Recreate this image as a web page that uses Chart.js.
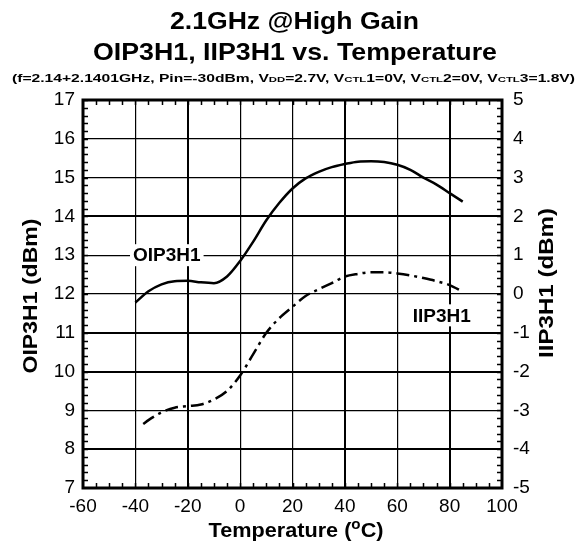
<!DOCTYPE html>
<html>
<head>
<meta charset="utf-8">
<script src="https://cdn.jsdelivr.net/npm/chart.js@4.4.1/dist/chart.umd.min.js"></script>
<style>
  html, body { margin: 0; padding: 0; background: #fff; }
  #wrap { width: 581px; height: 548px; }
</style>
</head>
<body>
<div id="wrap"><canvas id="myChart"></canvas></div>
<script>
// data
const oipTemps = [-40, -35, -30, -25, -20, -15, -10, -5, 0, 5, 10, 15, 20, 25, 30, 35, 40, 45, 50, 55, 60, 65, 70, 75, 80, 85]
const oipValues = [11.78, 12.07, 12.25, 12.33, 12.34, 12.3, 12.28, 12.45, 12.85, 13.35, 13.9, 14.35, 14.72, 14.98, 15.15, 15.27, 15.35, 15.41, 15.42, 15.4, 15.33, 15.2, 15.0, 14.82, 14.6, 14.38]
const iipTemps = [-37, -35, -30, -25, -20, -15, -10, -5, 0, 5, 10, 15, 20, 25, 30, 35, 40, 45, 50, 55, 60, 65, 70, 75, 80, 85]
const iipValues = [-3.35, -3.25, -3.05, -2.93, -2.89, -2.85, -2.72, -2.5, -2.1, -1.55, -1.0, -0.62, -0.33, -0.05, 0.12, 0.28, 0.45, 0.52, 0.56, 0.56, 0.53, 0.48, 0.41, 0.33, 0.23, 0.06]

const xTicks = [-60, -40, -20, 0, 20, 40, 60, 80, 100]
const leftTicks = [7, 8, 9, 10, 11, 12, 13, 14, 15, 16, 17]
const rightTicks = [-5, -4, -3, -2, -1, 0, 1, 2, 3, 4, 5]

const FONT = "'Liberation Sans', Arial, sans-serif"

// text made of pieces, some smaller (sub/superscripts), stretched to a width
function drawPieces(ctx, pieces, cx, baseline, size, targetWidth) {
    let total = 0
    pieces.forEach(p => {
        ctx.font = 'bold ' + Math.round(size * (p.scale || 1)) + 'px ' + FONT
        p.w = ctx.measureText(p.t).width
        total += p.w
    })
    const sx = targetWidth ? targetWidth / total : 1
    ctx.save()
    ctx.translate(cx - total * sx / 2, baseline)
    ctx.scale(sx, 1)
    ctx.textAlign = 'left'
    ctx.textBaseline = 'alphabetic'
    ctx.fillStyle = '#000'
    let x = 0
    pieces.forEach(p => {
        ctx.font = 'bold ' + Math.round(size * (p.scale || 1)) + 'px ' + FONT
        ctx.fillText(p.t, x, p.dy || 0)
        x += p.w
    })
    ctx.restore()
}

const sub = t => ({ t: t, scale: 0.72 })

const extras = {
    id: 'extras',
    afterDatasetsDraw(chart) {
        const ctx = chart.ctx
        const a = chart.chartArea
        const xs = chart.scales.x, ys = chart.scales.y

        // minor ticks, pointing inward on all four sides
        ctx.save()
        ctx.strokeStyle = '#000'
        ctx.lineWidth = 1.5
        ctx.beginPath()
        for (let t = -55; t < 100; t += 5) {
            const px = Math.round(xs.getPixelForValue(t)) + 0.5
            ctx.moveTo(px, a.bottom); ctx.lineTo(px, a.bottom - 5)
            ctx.moveTo(px, a.top); ctx.lineTo(px, a.top + 5)
        }
        for (let v = 7.2; v < 17; v += 0.2) {
            const py = Math.round(ys.getPixelForValue(v)) + 0.5
            ctx.moveTo(a.left, py); ctx.lineTo(a.left + 5, py)
            ctx.moveTo(a.right, py); ctx.lineTo(a.right - 5, py)
        }
        ctx.stroke()

        // frame
        ctx.lineWidth = 3
        ctx.strokeRect(a.left, a.top, a.right - a.left, a.bottom - a.top)

        // in-plot series labels on white
        ctx.font = 'bold 19px ' + FONT
        ctx.textAlign = 'center'
        ctx.textBaseline = 'middle'
        const labels = [
            { t: 'OIP3H1', x: xs.getPixelForValue(-28), y: ys.getPixelForValue(13) },
            { t: 'IIP3H1', x: xs.getPixelForValue(77), y: ys.getPixelForValue(12 - 0.55) }
        ]
        labels.forEach(l => {
            const w = ctx.measureText(l.t).width
            ctx.fillStyle = '#fff'
            ctx.fillRect(l.x - w / 2 - 3, l.y - 11, w + 6, 22)
            ctx.fillStyle = '#000'
            ctx.fillText(l.t, l.x, l.y + 1)
        })
        ctx.restore()
    },
    afterDraw(chart) {
        const ctx = chart.ctx
        // titles
        drawPieces(ctx, [{ t: '2.1GHz @High Gain' }], 294.5, 29, 24, 249)
        drawPieces(ctx, [{ t: 'OIP3H1, IIP3H1 vs. Temperature' }], 295, 60, 24, 404)
        drawPieces(ctx, [
            { t: '(f=2.14+2.1401GHz, Pin=-30dBm, V' }, sub('DD'),
            { t: '=2.7V, V' }, sub('CTL'), { t: '1=0V, V' }, sub('CTL'),
            { t: '2=0V, V' }, sub('CTL'), { t: '3=1.8V)' }
        ], 293.5, 82, 11, 563)

        // axis titles
        drawPieces(ctx, [{ t: 'Temperature (' }, { t: 'o', scale: 0.7, dy: -8 }, { t: 'C)' }], 296, 537, 20, 175)
        ctx.save()
        ctx.translate(37, 296)
        ctx.rotate(-Math.PI / 2)
        drawPieces(ctx, [{ t: 'OIP3H1 (dBm)' }], 0, 0, 20, 155)
        ctx.restore()
        ctx.save()
        ctx.translate(553, 283)
        ctx.rotate(-Math.PI / 2)
        drawPieces(ctx, [{ t: 'IIP3H1 (dBm)' }], 0, 0, 20, 150)
        ctx.restore()
    }
}

const thickX = [-20, 40, 80]
const thickY = [8, 10, 11, 14]

const ctx = document.getElementById('myChart')
const chart = new Chart(ctx, {
    type: 'line',
    data: {
        datasets: [
            {
                label: 'OIP3H1',
                data: oipTemps.map((t, i) => ({ x: t, y: oipValues[i] })),
                yAxisID: 'y',
                borderColor: '#000',
                borderWidth: 2.5,
                pointRadius: 0,
                tension: 0.4,
                cubicInterpolationMode: 'monotone'
            },
            {
                label: 'IIP3H1',
                data: iipTemps.map((t, i) => ({ x: t, y: iipValues[i] })),
                yAxisID: 'y1',
                borderColor: '#000',
                borderWidth: 2.5,
                borderDash: [13, 5, 3, 5],
                pointRadius: 0,
                tension: 0.4,
                cubicInterpolationMode: 'monotone'
            }
        ]
    },
    options: {
        responsive: true,
        maintainAspectRatio: false,
        animation: false,
        layout: { padding: { top: 100, left: 0, right: 0, bottom: 0 } },
        plugins: {
            legend: { display: false },
            tooltip: { enabled: false },
            title: { display: false }
        },
        scales: {
            x: {
                type: 'linear',
                min: -60,
                max: 100,
                afterBuildTicks: s => { s.ticks = xTicks.map(v => ({ value: v })) },
                afterFit: s => { s.height = 60 },
                ticks: { color: '#000', font: { family: FONT, size: 19 }, padding: 7, maxRotation: 0 },
                grid: {
                    color: '#000',
                    drawTicks: false,
                    lineWidth: c => thickX.includes(c.tick && c.tick.value) ? 2 : 1.2
                },
                border: { display: false }
            },
            y: {
                type: 'linear',
                position: 'left',
                min: 7,
                max: 17,
                afterBuildTicks: s => { s.ticks = leftTicks.map(v => ({ value: v })) },
                afterFit: s => { s.width = 83 },
                ticks: { color: '#000', font: { family: FONT, size: 19 }, padding: 8 },
                grid: {
                    color: '#000',
                    drawTicks: false,
                    lineWidth: c => thickY.includes(c.tick && c.tick.value) ? 2 : 1.2
                },
                border: { display: false }
            },
            y1: {
                type: 'linear',
                position: 'right',
                min: -5,
                max: 5,
                afterBuildTicks: s => { s.ticks = rightTicks.map(v => ({ value: v })) },
                afterFit: s => { s.width = 79 },
                ticks: { color: '#000', font: { family: FONT, size: 19 }, padding: 11 },
                grid: { drawOnChartArea: false, drawTicks: false },
                border: { display: false }
            }
        }
    },
    plugins: [extras]
})
</script>
</body>
</html>
